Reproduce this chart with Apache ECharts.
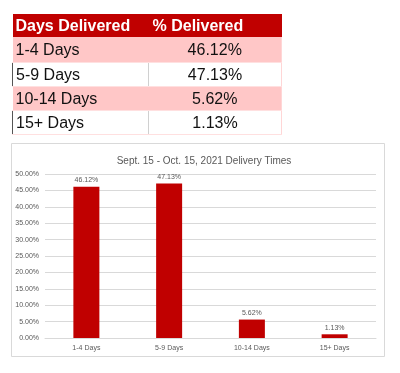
<!DOCTYPE html>
<html>
<head>
<meta charset="utf-8">
<script src="https://cdn.jsdelivr.net/npm/echarts@6/dist/echarts.min.js"></script>
<style>
  html, body { margin: 0; padding: 0; background: #fff; }
  #wrap { position: relative; width: 400px; height: 373px; overflow: hidden; }
  #chart { position: absolute; left: 0; top: 0; width: 400px; height: 373px; }
  #tbl { position: absolute; left: 12px; top: 14px; border-collapse: collapse;
         font-family: "Liberation Sans", Arial, sans-serif; font-size: 16px; color: #111; }
  #tbl td, #tbl th { padding: 0; height: 23px; line-height: 23px; }
  #tbl th { background: #C00000; color: #fff; font-weight: bold; text-align: left; height: 23px; }
  #tbl .c1 { width: 136px; padding-left: 3px; box-sizing: border-box; }
  #tbl .c2 { width: 133px; text-align: center; box-sizing: border-box; }
  #tbl th.c2 { text-align: left; padding-left: 4px; }
  #tbl tr.pink td { background: #FFC7C7; }
  #tbl tr.white td { background: #fff; }
  #tbl tr.r0 td { height: 25px; }
  #tbl tr.white td.c1 { border-left: 1px solid #555; border-right: 1px solid #d0d0d0; }
  #tbl tr td.c2 { border-right: 1px solid #FFD6D6; }
  #tbl tr td { border-bottom: 1px solid #FFE0E0; }
</style>
</head>
<body>
<div id="wrap">
  <div id="chart"></div>
  <table id="tbl"></table>
</div>
<script>
const tableHeaders = ["Days Delivered", "% Delivered"];
const categories = ["1-4 Days", "5-9 Days", "10-14 Days", "15+ Days"];
const percentValues = [46.12, 47.13, 5.62, 1.13];
const chartTitle = "Sept. 15 - Oct. 15, 2021 Delivery Times";

// table
const tbl = document.getElementById('tbl');
let html = '<tr><th class="c1">' + tableHeaders[0] + '</th><th class="c2">' + tableHeaders[1] + '</th></tr>';
categories.forEach((c, i) => {
  html += '<tr class="r' + i + ' ' + (i % 2 === 0 ? 'pink' : 'white') + '"><td class="c1">' + c +
          '</td><td class="c2">' + percentValues[i].toFixed(2) + '%</td></tr>';
});
tbl.innerHTML = html;

const chart = echarts.init(document.getElementById('chart'), null, { renderer: 'canvas' });
const fontFam = '"Liberation Sans", Arial, sans-serif';
chart.setOption({
  animation: false,
  textStyle: { fontFamily: fontFam },
  graphic: [{
    type: 'rect', shape: { x: 11.5, y: 143.5, width: 373, height: 213 },
    style: { fill: '#fff', stroke: '#d9d9d9', lineWidth: 1 }, z: -10
  }],
  title: {
    text: chartTitle, left: 199, top: 151, textAlign: 'center',
    textStyle: { fontSize: 10, fontWeight: 'normal', color: '#595959', fontFamily: fontFam }
  },
  grid: { left: 45, right: 24, top: 174, bottom: 35, containLabel: false },
  xAxis: {
    type: 'category', data: categories,
    axisLine: { lineStyle: { color: '#d9d9d9' } },
    axisTick: { show: false },
    axisLabel: { color: '#595959', fontSize: 7, margin: 7, fontFamily: fontFam }
  },
  yAxis: {
    type: 'value', min: 0, max: 50, interval: 5,
    axisLine: { show: false }, axisTick: { show: false },
    splitLine: { lineStyle: { color: '#d9d9d9' } },
    axisLabel: { color: '#595959', fontSize: 7, margin: 6, fontFamily: fontFam,
                 formatter: v => v.toFixed(2) + '%' }
  },
  series: [{
    type: 'bar', data: percentValues, barWidth: 26,
    itemStyle: { color: '#C00000' },
    label: { show: true, position: 'top', distance: 3, color: '#595959', fontSize: 7,
             fontFamily: fontFam, formatter: p => p.value.toFixed(2) + '%' }
  }]
});
</script>
</body>
</html>
